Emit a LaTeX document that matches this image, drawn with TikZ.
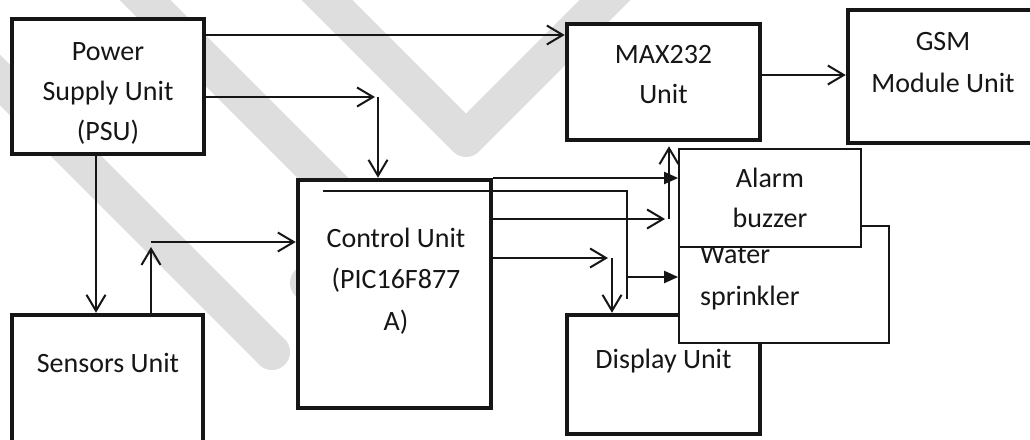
\documentclass[tikz,border=0pt]{standalone}
\usepackage{fontspec}
\setmainfont{Carlito}
\usetikzlibrary{arrows.meta}
\definecolor{wm}{RGB}{222,222,222}
\definecolor{ink}{RGB}{22,22,22}
\begin{document}
\begin{tikzpicture}[x=1pt,y=-1pt,
  thickbox/.style={draw=ink, line width=4.5pt, fill=white, rectangle, inner sep=0pt},
  thinbox/.style={draw=ink, line width=1.7pt, fill=white, rectangle, inner sep=0pt},
  lbl/.style={font=\fontsize{28}{34}\selectfont, text=ink, anchor=base, inner sep=0pt},
  conn/.style={draw=ink, line width=2pt},
  oa/.style={conn, -{Straight Barb[length=16pt,width=19pt]}},
  fa/.style={conn, -{Triangle[length=14pt,width=12pt]}},
  wmk/.style={draw=wm, line width=36pt, line cap=round, line join=round}
]
\useasboundingbox (0,0) rectangle (1030,439);
\fill[white] (0,0) rectangle (1030,439);

% watermark
\draw[wmk] (-30,50) -- (272,352);
\draw[wmk] (125,-20) -- (335,190);
\draw[wmk] (307,-20) -- (466,139) -- (625,-20);
\draw[wmk] (308,283) -- (335,310);

% boxes
\node[thickbox, minimum width=192pt, minimum height=135pt] (psu) at (108,86.5) {};
\node[thickbox, minimum width=193pt, minimum height=116pt] (max) at (663.5,82) {};
\node[thickbox, minimum width=190pt, minimum height=133pt] (gsm) at (943,76.5) {};
\node[thickbox, minimum width=193pt, minimum height=228pt] (ctrl) at (394.5,294) {};
\node[thickbox, minimum width=191pt, minimum height=145pt] (sens) at (107.5,387.5) {};
\node[thickbox, minimum width=193pt, minimum height=119pt] (disp) at (663.5,374.5) {};
\node[thinbox, minimum width=210pt, minimum height=117pt] (water) at (784,284.5) {};
\node[lbl, anchor=base west] (waterA) at (700,263) {Water};
\node[lbl, anchor=base west] (waterB) at (700,305) {sprinkler};
\node[thinbox, minimum width=182pt, minimum height=98pt] (alarm) at (770,198) {};

% labels
\node[lbl] (psuA) at (108,60) {Power};
\node[lbl] (psuB) at (108,100) {Supply Unit};
\node[lbl] (psuC) at (108,140) {(PSU)};
\node[lbl] (maxA) at (663.5,63) {MAX232};
\node[lbl] (maxB) at (663.5,103) {Unit};
\node[lbl] (gsmA) at (943,50) {GSM};
\node[lbl] (gsmB) at (943,92) {Module Unit};
\node[lbl] (ctrlA) at (396,247) {Control Unit};
\node[lbl] (ctrlB) at (396,288) {(PIC16F877};
\node[lbl] (ctrlC) at (396,330) {A)};
\node[lbl] (sensA) at (108,372) {Sensors Unit};
\node[lbl] (dispA) at (663.5,368) {Display Unit};
\node[lbl] (alarmA) at (770,187) {Alarm};
\node[lbl] (alarmB) at (770,227) {buzzer};

% helper coordinates
\coordinate (h35) at (0,35);
\coordinate (h75) at (0,75);
\coordinate (v96) at (96,0);
\coordinate (k1) at (375,97);
\coordinate (k2) at (378,97);
\coordinate (k3) at (151,247);
\coordinate (k4) at (151,242);
\coordinate (h178) at (0,178);
\coordinate (i1) at (323,191);
\coordinate (i2) at (627,191);
\coordinate (i3) at (627,299);
\coordinate (i4) at (627,277);
\coordinate (h219) at (0,219);
\coordinate (k5) at (665,219);
\coordinate (k6) at (669,219);
\coordinate (h258) at (0,258);
\coordinate (k7) at (608,258);
\coordinate (k8) at (612,258);

% connectors
\draw[oa] (psu.east |- h35) -- (max.west |- h35);
\draw[oa] (psu.east |- k1) -- (k1);
\draw[oa] (k2) -- (k2 |- ctrl.north);
\draw[oa] (psu.south -| v96) -- (sens.north -| v96);
\draw[oa] (sens.north -| k3) -- (k3);
\draw[oa] (k4) -- (ctrl.west |- k4);
\draw[fa] (ctrl.east |- h178) -- (alarm.west |- h178);
\draw[conn] (i1) -- (i2) -- (i3);
\draw[fa] (i4) -- (water.west |- i4);
\draw[oa] (ctrl.east |- h219) -- (k5);
\draw[oa, shorten >=4pt] (k6) -- (k6 |- max.south);
\draw[oa] (ctrl.east |- h258) -- (k7);
\draw[oa] (k8) -- (k8 |- disp.north);
\draw[oa] (max.east |- h75) -- (gsm.west |- h75);
\end{tikzpicture}
\end{document}
